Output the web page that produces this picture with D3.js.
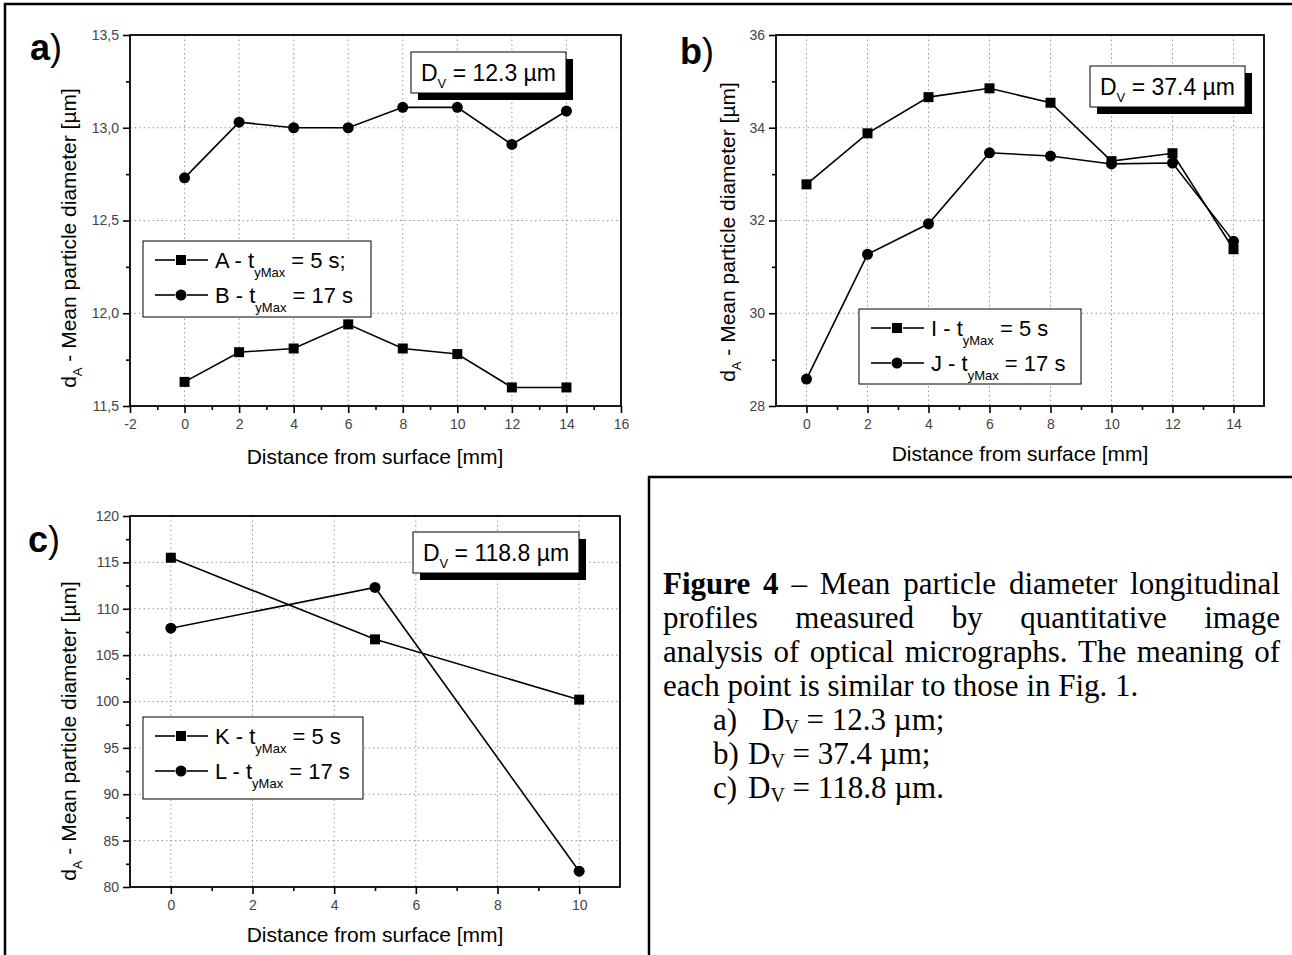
<!DOCTYPE html>
<html>
<head>
<meta charset="utf-8">
<script src="https://cdn.jsdelivr.net/npm/d3@7"></script>
<style>
body{margin:0;background:#fff}
text{font-family:"Liberation Sans",Arial,sans-serif}
.cap{font-family:"Liberation Serif","Times New Roman",serif}
</style>
</head>
<body>
<div id="fig"></div>
<script>
// a) D_V = 12.3 um
var aDist = [0,2,4,6,8,10,12,14]
var aSerA = [11.63,11.79,11.81,11.94,11.81,11.78,11.60,11.60]
var aSerB = [12.73,13.03,13.00,13.00,13.11,13.11,12.91,13.09]
var aXTicks = [-2,0,2,4,6,8,10,12,14,16]
var aXMinor = [-1,1,3,5,7,9,11,13,15]
var aYTicks = [11.5,12.0,12.5,13.0,13.5]
var aYMinor = [11.75,12.25,12.75,13.25]

// b) D_V = 37.4 um
var bDist = [0,2,4,6,8,10,12,14]
var bSerI = [32.78,33.88,34.66,34.85,34.54,33.28,33.45,31.38]
var bSerJ = [28.58,31.27,31.93,33.46,33.39,33.22,33.24,31.55]
var bXTicks = [0,2,4,6,8,10,12,14]
var bXMinor = [1,3,5,7,9,11,13]
var bYTicks = [28,30,32,34,36]
var bYMinor = [29,31,33,35]

// c) D_V = 118.8 um
var cDist = [0,5,10]
var cSerK = [115.5,106.7,100.2]
var cSerL = [107.9,112.3,81.7]
var cXTicks = [0,2,4,6,8,10]
var cXMinor = [1,3,5,7,9]
var cYTicks = [80,85,90,95,100,105,110,115,120]
var cYMinor = [82.5,87.5,92.5,97.5,102.5,107.5,112.5,117.5]

var commaFmt = function(d){ return d3.format(".1f")(d).replace(".", ",") }
var plainFmt = function(d){ return String(d) }

var svg = d3.select('#fig').append('svg')
    .attr('width',1292)
    .attr('height',955)

// figure borders
svg.append('path').attr('d','M5,955 L5,4 L1292,4').attr('fill','none').attr('stroke','#000').attr('stroke-width',2.5)
svg.append('path').attr('d','M649,955 L649,477 L1292,477').attr('fill','none').attr('stroke','#000').attr('stroke-width',2.5)

var panels = [
  {letter:'a', lx:30, ly:60, left:130, right:621, top:35, bottom:406,
   xDom:[-2,16], yDom:[11.5,13.5], xTicks:aXTicks, xMinor:aXMinor, yTicks:aYTicks, yMinor:aYMinor,
   yFmt:commaFmt, dist:aDist,
   series:[{vals:aSerA, shape:'sq', name:'A - t', rest:' = 5 s;'},
           {vals:aSerB, shape:'ci', name:'B - t', rest:' = 17 s'}],
   dv:'12.3', dvBox:[411,52,155,41], legBox:[143,241,228,76],
   yTitle:[76,238], xTitle:[375,464]},
  {letter:'b', lx:680, ly:64, left:776, right:1264, top:35, bottom:406,
   xDom:[-1,15], yDom:[28,36], xTicks:bXTicks, xMinor:bXMinor, yTicks:bYTicks, yMinor:bYMinor,
   yFmt:plainFmt, dist:bDist,
   series:[{vals:bSerI, shape:'sq', name:'I - t', rest:' = 5 s'},
           {vals:bSerJ, shape:'ci', name:'J - t', rest:' = 17 s'}],
   dv:'37.4', dvBox:[1090,66,155,41], legBox:[859,309,222,75],
   yTitle:[735,232], xTitle:[1020,461]},
  {letter:'c', lx:28, ly:552, left:130, right:620, top:516, bottom:887,
   xDom:[-1,11], yDom:[80,120], xTicks:cXTicks, xMinor:cXMinor, yTicks:cYTicks, yMinor:cYMinor,
   yFmt:plainFmt, dist:cDist,
   series:[{vals:cSerK, shape:'sq', name:'K - t', rest:' = 5 s'},
           {vals:cSerL, shape:'ci', name:'L - t', rest:' = 17 s'}],
   dv:'118.8', dvBox:[413,532,166,41], legBox:[143,717,220,82],
   yTitle:[76,731], xTitle:[375,942]}
]

function marker(sel, shape, cx, cy) {
  if (shape == 'sq') {
    sel.append('rect').attr('x',cx-5).attr('y',cy-5).attr('width',10).attr('height',10).attr('fill','#000')
  } else {
    sel.append('circle').attr('cx',cx).attr('cy',cy).attr('r',5.5).attr('fill','#000')
  }
}

function drawPanel(p) {
  var x = d3.scaleLinear().domain(p.xDom).range([p.left,p.right])
  var y = d3.scaleLinear().domain(p.yDom).range([p.bottom,p.top])
  var g = svg.append('g')

  // dotted grid at the major ticks
  g.selectAll('.gx').data(p.xTicks.filter(function(d){ return d > p.xDom[0] && d < p.xDom[1] }))
    .enter().append('line')
    .attr('x1',function(d){ return x(d) }).attr('x2',function(d){ return x(d) })
    .attr('y1',p.top).attr('y2',p.bottom)
    .attr('stroke','#999').attr('stroke-width',1).attr('stroke-dasharray','1.5,3')
  g.selectAll('.gy').data(p.yTicks.filter(function(d){ return d > p.yDom[0] && d < p.yDom[1] }))
    .enter().append('line')
    .attr('y1',function(d){ return y(d) }).attr('y2',function(d){ return y(d) })
    .attr('x1',p.left).attr('x2',p.right)
    .attr('stroke','#999').attr('stroke-width',1).attr('stroke-dasharray','1.5,3')

  // axes
  var xa = g.append('g').attr('transform','translate(0,'+p.bottom+')')
    .call(d3.axisBottom(x).tickValues(p.xTicks).tickSize(7).tickSizeOuter(0).tickPadding(6).tickFormat(plainFmt))
  var xm = g.append('g').attr('transform','translate(0,'+p.bottom+')')
    .call(d3.axisBottom(x).tickValues(p.xMinor).tickSize(4).tickSizeOuter(0).tickFormat(''))
  var ya = g.append('g').attr('transform','translate('+p.left+',0)')
    .call(d3.axisLeft(y).tickValues(p.yTicks).tickSize(7).tickSizeOuter(0).tickPadding(4).tickFormat(p.yFmt))
  var ym = g.append('g').attr('transform','translate('+p.left+',0)')
    .call(d3.axisLeft(y).tickValues(p.yMinor).tickSize(4).tickSizeOuter(0).tickFormat(''))
  ;[xa,xm,ya,ym].forEach(function(a){
    a.select('.domain').remove()
    a.selectAll('line').attr('stroke','#000').attr('stroke-width',1.6)
    a.selectAll('text').attr('font-size',14).attr('fill','#444').attr('font-family','"Liberation Sans",Arial,sans-serif')
  })

  // frame
  g.append('rect').attr('x',p.left).attr('y',p.top)
    .attr('width',p.right-p.left).attr('height',p.bottom-p.top)
    .attr('fill','none').attr('stroke','#000').attr('stroke-width',1.8)

  // data lines and markers
  var line = d3.line().x(function(d){ return x(d[0]) }).y(function(d){ return y(d[1]) })
  p.series.forEach(function(s){
    var pts = p.dist.map(function(d,i){ return [d, s.vals[i]] })
    g.append('path').datum(pts).attr('d',line)
      .attr('fill','none').attr('stroke','#000').attr('stroke-width',1.6)
    pts.forEach(function(d){ marker(g, s.shape, x(d[0]), y(d[1])) })
  })

  // D_V box with shadow
  var b = p.dvBox
  g.append('rect').attr('x',b[0]+7).attr('y',b[1]+7).attr('width',b[2]).attr('height',b[3]).attr('fill','#000')
  g.append('rect').attr('x',b[0]).attr('y',b[1]).attr('width',b[2]).attr('height',b[3])
    .attr('fill','#fff').attr('stroke','#000').attr('stroke-width',1)
  var dt = g.append('text').attr('x',b[0]+b[2]/2).attr('y',b[1]+b[3]/2+8)
    .attr('text-anchor','middle').attr('font-size',23)
  dt.append('tspan').text('D')
  dt.append('tspan').attr('font-size',13).attr('dy',7).text('V')
  dt.append('tspan').attr('dy',-7).text(' = ' + p.dv + ' \u00b5m')

  // legend
  var L = p.legBox
  g.append('rect').attr('x',L[0]).attr('y',L[1]).attr('width',L[2]).attr('height',L[3])
    .attr('fill','#fff').attr('stroke','#000').attr('stroke-width',1)
  p.series.forEach(function(s,i){
    var cy = L[1] + 19 + i*35
    g.append('line').attr('x1',L[0]+12).attr('x2',L[0]+32).attr('y1',cy).attr('y2',cy)
      .attr('stroke','#000').attr('stroke-width',1.6)
    g.append('line').attr('x1',L[0]+44).attr('x2',L[0]+65).attr('y1',cy).attr('y2',cy)
      .attr('stroke','#000').attr('stroke-width',1.6)
    marker(g, s.shape, L[0]+38, cy)
    var t = g.append('text').attr('x',L[0]+72).attr('y',cy+8).attr('font-size',22)
    t.append('tspan').text(s.name)
    t.append('tspan').attr('font-size',13).attr('dy',9).text('yMax')
    t.append('tspan').attr('dy',-9).text(s.rest)
  })

  // axis titles
  g.append('text').attr('x',p.xTitle[0]).attr('y',p.xTitle[1])
    .attr('text-anchor','middle').attr('font-size',21).text('Distance from surface [mm]')
  var yt = g.append('text')
    .attr('transform','translate('+p.yTitle[0]+','+p.yTitle[1]+') rotate(-90)')
    .attr('text-anchor','middle').attr('font-size',21)
  yt.append('tspan').text('d')
  yt.append('tspan').attr('font-size',13).attr('dy',6).text('A')
  yt.append('tspan').attr('dy',-6).text(' - Mean particle diameter [\u00b5m]')

  // panel letter
  var pl = g.append('text').attr('x',p.lx).attr('y',p.ly).attr('font-size',36)
  pl.append('tspan').attr('font-weight','bold').text(p.letter)
  pl.append('tspan').text(')')
}

panels.forEach(drawPanel)

// caption
var capX0 = 663, capX1 = 1280, capSize = 31, capLead = 34, capY0 = 594
var capLines = [
  {words:[['Figure',1],['4',1],['\u2013',0],['Mean',0],['particle',0],['diameter',0],['longitudinal',0]], just:true},
  {words:[['profiles',0],['measured',0],['by',0],['quantitative',0],['image',0]], just:true},
  {words:[['analysis',0],['of',0],['optical',0],['micrographs.',0],['The',0],['meaning',0],['of',0]], just:true},
  {words:[['each',0],['point',0],['is',0],['similar',0],['to',0],['those',0],['in',0],['Fig.',0],['1.',0]], just:false}
]
var cap = svg.append('g').attr('class','cap')
capLines.forEach(function(ln,i){
  var yy = capY0 + i*capLead
  var nodes = ln.words.map(function(w){
    return cap.append('text').attr('class','cap').attr('y',yy).attr('font-size',capSize)
      .attr('font-weight', w[1] ? 'bold' : 'normal').text(w[0])
  })
  var widths = nodes.map(function(n){ return n.node().getComputedTextLength() })
  var total = d3.sum(widths)
  var gap = ln.just ? (capX1 - capX0 - total) / (nodes.length - 1) : capSize*0.25
  var xx = capX0
  nodes.forEach(function(n,k){ n.attr('x',xx); xx += widths[k] + gap })
})
var capItems = [['a)', '12.3', ';', 762], ['b)', '37.4', ';', 748], ['c)', '118.8', '.', 748]]
capItems.forEach(function(it,i){
  var yy = capY0 + (4+i)*capLead
  cap.append('text').attr('class','cap').attr('x',713).attr('y',yy).attr('font-size',capSize).text(it[0])
  var t = cap.append('text').attr('class','cap').attr('x',it[3]).attr('y',yy).attr('font-size',capSize)
  t.append('tspan').text('D')
  t.append('tspan').attr('font-size',20).attr('dy',4).text('V')
  t.append('tspan').attr('dy',-4).text(' = ' + it[1] + ' \u00b5m' + it[2])
})
</script>
</body>
</html>
